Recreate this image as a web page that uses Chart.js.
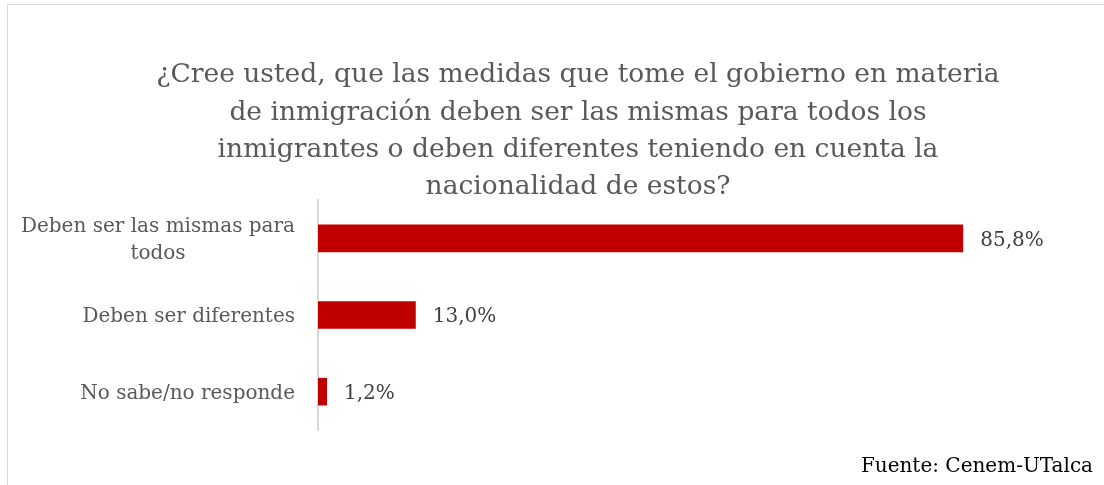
<!DOCTYPE html>
<html>
<head>
<meta charset="utf-8">
<script src="https://cdn.jsdelivr.net/npm/chart.js@4.4.1/dist/chart.umd.min.js"></script>
<style>
  html, body { margin: 0; padding: 0; background: #fff; }
  #wrap { position: relative; width: 1104px; height: 485px; overflow: hidden; }
  #frame { position: absolute; left: 7px; top: 4px; width: 1200px; height: 600px; border: 1px solid #d9d9d9; box-sizing: border-box; }
  #source { position: absolute; right: 11px; top: 453px; font-family: "DejaVu Serif", serif; font-size: 20px; color: #000; }
  canvas { position: absolute; left: 0; top: 0; }
</style>
</head>
<body>
<div id="wrap">
  <div id="frame"></div>
  <canvas id="chart" width="1104" height="485"></canvas>
  <div id="source">Fuente: Cenem-UTalca</div>
</div>
<script>
const TITLE_LINES = [
  '¿Cree usted, que las medidas que tome el gobierno en materia',
  'de inmigración deben ser las mismas para todos los',
  'inmigrantes o deben diferentes teniendo en cuenta la',
  'nacionalidad de estos?'
];
const CATEGORIES = [
  ['Deben ser las mismas para', 'todos'],
  ['Deben ser diferentes'],
  ['No sabe/no responde']
];
const VALUES = [85.8, 13.0, 1.2];

const SERIF = '"DejaVu Serif", serif';
const TITLE_CENTER_X = 578;

function fmtPct(v) {
  return v.toFixed(1).replace('.', ',') + '%';
}

// title, category labels (centred text block, right aligned to the axis) and value labels
const extras = {
  id: 'extras',
  afterDraw(chart) {
    const ctx = chart.ctx;
    const area = chart.chartArea;
    const yScale = chart.scales.y;
    const meta = chart.getDatasetMeta(0);
    ctx.save();

    // title
    ctx.font = '26.5px ' + SERIF;
    ctx.fillStyle = '#595959';
    ctx.textAlign = 'center';
    ctx.textBaseline = 'middle';
    TITLE_LINES.forEach((line, i) => {
      ctx.fillText(line, TITLE_CENTER_X, 75.5 + i * 37.3);
    });

    // category labels
    ctx.font = '20px ' + SERIF;
    const right = area.left - 23;
    CATEGORIES.forEach((lines, i) => {
      const w = Math.max(...lines.map(l => ctx.measureText(l).width));
      const cx = right - w / 2;
      const y0 = yScale.getPixelForValue(i) + 2 - (lines.length - 1) * 27 / 2;
      lines.forEach((l, j) => ctx.fillText(l, cx, y0 + j * 27));
    });

    // value labels
    ctx.fillStyle = '#404040';
    ctx.textAlign = 'left';
    meta.data.forEach((bar, i) => {
      ctx.fillText(fmtPct(VALUES[i]), bar.x + 17, bar.y + 2);
    });
    ctx.restore();
  }
};

new Chart(document.getElementById('chart'), {
  type: 'bar',
  data: {
    labels: CATEGORIES.map(c => c.join(' ')),
    datasets: [{
      data: VALUES,
      backgroundColor: '#c00000',
      borderWidth: 0,
      categoryPercentage: 1,
      barPercentage: 0.36
    }]
  },
  options: {
    indexAxis: 'y',
    responsive: false,
    animation: false,
    layout: { padding: { left: 0, right: 34, top: 200, bottom: 55 } },
    plugins: {
      legend: { display: false },
      tooltip: { enabled: false },
      title: { display: false }
    },
    scales: {
      x: { display: false, min: 0, max: 100 },
      y: {
        afterFit: s => { s.width = 318; },
        grid: { display: false, drawTicks: false },
        border: { color: '#d9d9d9', width: 2 },
        ticks: { display: false }
      }
    }
  },
  plugins: [extras]
});
</script>
</body>
</html>
